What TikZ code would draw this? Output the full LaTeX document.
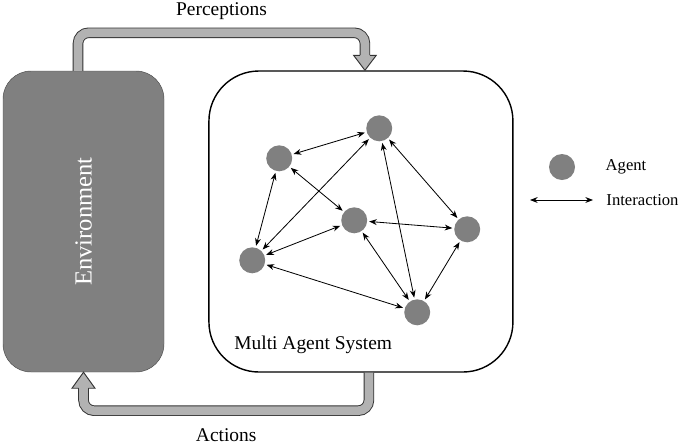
\documentclass[tikz,border=0pt]{standalone}
\usepackage{fontspec}
\setmainfont{Liberation Serif}
\usetikzlibrary{positioning, arrows.meta}
\definecolor{boxgray}{RGB}{128,128,128}
\definecolor{pipegray}{RGB}{178,178,178}
\tikzstyle{agent} = [circle, fill=boxgray, minimum size=0.78cm, inner sep=0pt]
\tikzstyle{pipe} = [draw=black!80, line width=0.8pt, double=pipegray, double distance=0.26cm, rounded corners=0.32cm]
\tikzstyle{pipehead} = [draw=black!80, line width=0.8pt, fill=pipegray, line join=miter]
\tikzstyle{lbl} = [font=\fontsize{16.6}{20}\selectfont]
\tikzstyle{legend} = [font=\fontsize{14.2}{17}\selectfont]

\begin{document}
\begin{tikzpicture}[>={Stealth[length=6.5pt, width=5pt]}, node distance=1cm]
    \useasboundingbox (0,0) rectangle (20.55,-13.38);

    % the two boxes
    \node[draw=black!70, fill=boxgray, rounded corners=0.84cm, minimum width=4.83cm, minimum height=9.03cm] (env) at (2.505,-6.645) {};
    \node[rotate=90, text=white, font=\fontsize{21}{25}\selectfont] (envtxt) at (env.center) {Environment};
    \node[draw, line width=1.2pt, rounded corners=1.5cm, minimum width=9.12cm, minimum height=9.03cm, right=1.32cm of env] (mas) {};
    \node[lbl] (mastxt) at ([shift={(3.15,0.84)}]mas.south west) {Multi Agent System};

    % agents
    \node[agent] (a1) at ([shift={(2.13,-2.64)}]mas.north west) {};
    \begin{scope}[on grid]
        \node[agent, above right=0.9cm and 3.0cm of a1] (a2) {};
        \node[agent, below right=1.86cm and 2.25cm of a1] (a3) {};
        \node[agent, below right=0.27cm and 3.39cm of a3] (a4) {};
        \node[agent, below left=3.06cm and 0.81cm of a1] (a5) {};
        \node[agent, below right=2.76cm and 1.89cm of a3] (a6) {};
    \end{scope}

    \path[<->, line width=0.7pt, shorten >=1.5pt, shorten <=1.5pt]
        (a1) edge (a2)
        (a1) edge (a3)
        (a1) edge (a5)
        (a2) edge (a5)
        (a2) edge (a4)
        (a2) edge (a6)
        (a3) edge (a4)
        (a3) edge (a5)
        (a3) edge (a6)
        (a4) edge (a6)
        (a5) edge (a6)
    ;

    % perceptions
    \coordinate (ptip) at ([xshift=0.12cm]mas.north);
    \coordinate (pbase) at ([yshift=0.45cm]ptip);
    \draw[pipe] ([xshift=-0.165cm]env.north) -- ++(0,1.14) -| node[lbl, pos=0.25, yshift=0.66cm] (perc) {Perceptions} (pbase);
    \path[pipehead] ([xshift=-0.145cm]pbase) -- ([xshift=-0.34cm]pbase) -- (ptip) -- ([xshift=0.34cm]pbase) -- ([xshift=0.145cm]pbase);

    % actions
    \coordinate (atip) at (env.south);
    \coordinate (abase) at ([yshift=-0.48cm]atip);
    \draw[pipe] ([xshift=0.24cm]mas.south) -- ++(0,-1.14) -| node[lbl, pos=0.25, yshift=-0.74cm] (act) {Actions} (abase);
    \path[pipehead] ([xshift=0.145cm]abase) -- ([xshift=0.345cm]abase) -- (atip) -- ([xshift=-0.345cm]abase) -- ([xshift=-0.145cm]abase);

    % legend
    \node[agent] (lagent) at (16.86,-5.01) {};
    \node[legend, right=0.79cm of lagent] (lagtxt) {Agent};
    \coordinate (la) at (15.9,-6.0);
    \coordinate (lb) at (17.79,-6.0);
    \draw[<->, line width=0.7pt] (la) -- (lb);
    \node[legend, right=0.28cm of lb] (linttxt) {Interaction};

\end{tikzpicture}
\end{document}
